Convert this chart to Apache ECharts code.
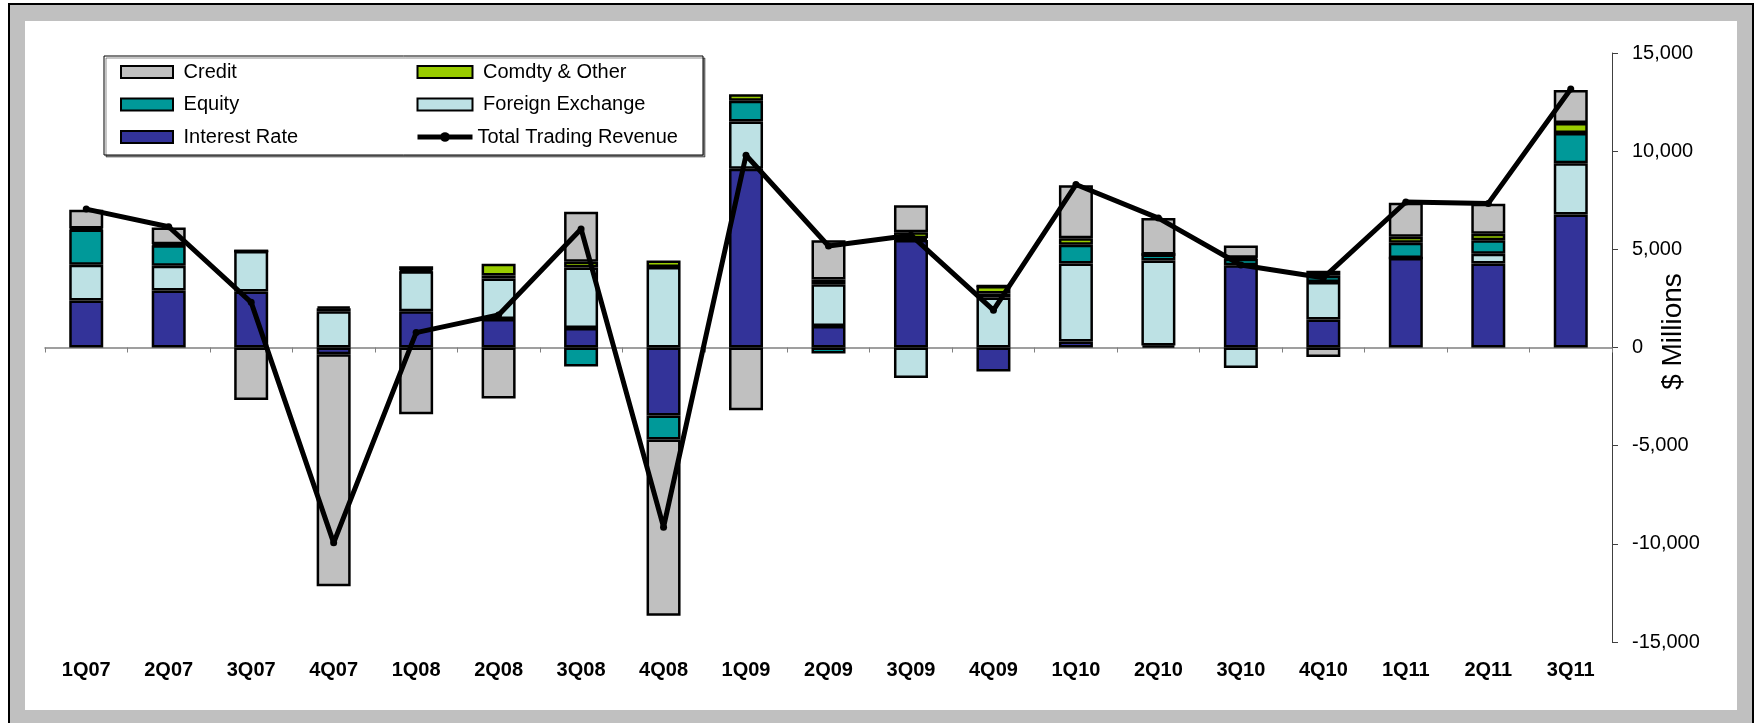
<!DOCTYPE html>
<html>
<head>
<meta charset="utf-8">
<title>Trading Revenue</title>
<script src="https://cdn.jsdelivr.net/npm/echarts@6/dist/echarts.min.js"></script>
<style>
	html, body { margin: 0; padding: 0; background: #fff; }
	#main { width: 1758px; height: 723px; }
</style>
</head>
<body>
<div id="main"></div>
<script>
//季度
const quarters = ['1Q07', '2Q07', '3Q07', '4Q07', '1Q08', '2Q08', '3Q08', '4Q08', '1Q09', '2Q09',
	'3Q09', '4Q09', '1Q10', '2Q10', '3Q10', '4Q10', '1Q11', '2Q11', '3Q11'];

//各业务收入 ($ Millions)
const interestRate = [2400, 2900, 2850, -340, 1840, 1450, 990, -3460, 9110, 1090, 5470, -1220, 300, 100, 4190, 1420, 4555, 4280, 6780];
const foreignExchange = [1820, 1260, 2070, 1850, 2040, 2070, 3080, 4100, 2400, 2130, -1550, 2550, 3980, 4330, -1040, 1910, 0, 490, 2600];
const equity = [1790, 1050, 0, 150, 60, 150, -970, -1220, 1060, -310, 100, 200, 950, 310, 330, 330, 780, 690, 1550];
const comdty = [50, 50, 0, 80, 200, 600, 300, 330, 330, 240, 300, 380, 330, 0, 50, 255, 310, 330, 510];
const credit = [950, 850, -2670, -11815, -3400, -2600, 2550, -8980, -3190, 2000, 1380, 0, 2700, 1860, 620, -490, 1730, 1530, 1680];
const totalRevenue = [7050, 6150, 2300, -9950, 760, 1660, 6040, -9150, 9790, 5170, 5720, 1900, 8300, 6590, 4200, 3550, 7410, 7340, 13170];

//y轴刻度
const yMin = -15000, yMax = 15000, yStep = 5000;

const FONT = '"Liberation Sans", Arial, sans-serif';
const LINE_NAME = 'Total Trading Revenue';

function barSeries(name, data, color) {
	return {
		name: name,
		type: 'bar',
		stack: 'rev',
		barWidth: 34,
		xAxisIndex: 0,
		data: data,
		itemStyle: { color: color, borderColor: '#000', borderWidth: 2.5 },
		z: 2
	};
}

//图例文字前留一点空隙(线条那项除外)
function legendText(name) {
	return name === LINE_NAME ? name : ' ' + name;
}

const option = {
	animation: false,
	textStyle: { fontFamily: FONT },
	graphic: [
		//外框
		{ type: 'rect', z: -10, silent: true, shape: { x: 9, y: 4, width: 1744, height: 740 },
			style: { fill: '#c0c0c0', stroke: '#000', lineWidth: 2 } },
		{ type: 'rect', z: -9, silent: true, shape: { x: 25, y: 21, width: 1712, height: 689 },
			style: { fill: '#fff' } },
		//图例边框
		{ type: 'rect', z: 1, silent: true, shape: { x: 104, y: 56, width: 599, height: 99 },
			style: { fill: '#fff', stroke: '#000', lineWidth: 1,
				shadowColor: 'rgba(0,0,0,0.45)', shadowOffsetX: 2, shadowOffsetY: 2, shadowBlur: 0 } }
	],
	legend: [
		{
			orient: 'vertical', left: 120, top: 62, padding: 0, itemWidth: 52, itemHeight: 12, itemGap: 12.5,
			formatter: legendText,
			textStyle: { fontSize: 20, lineHeight: 20, color: '#000', fontFamily: FONT },
			data: [{ name: 'Credit', icon: 'rect' }, { name: 'Equity', icon: 'rect' }, { name: 'Interest Rate', icon: 'rect' }]
		},
		{
			orient: 'vertical', left: 415, top: 62, padding: 0, itemWidth: 55, itemHeight: 12, itemGap: 12.5,
			formatter: legendText,
			lineStyle: { width: 5 },
			textStyle: { fontSize: 20, lineHeight: 20, color: '#000', fontFamily: FONT },
			data: [{ name: 'Comdty & Other', icon: 'rect' }, { name: 'Foreign Exchange', icon: 'rect' }, { name: LINE_NAME }]
		}
	],
	grid: { left: 45, right: 146, top: 53, bottom: 81, containLabel: false },
	xAxis: [
		{
			type: 'category', data: quarters, position: 'bottom',
			axisLine: { onZero: true, lineStyle: { color: '#808080', width: 1.5 } },
			axisTick: { show: true, length: 5, interval: 0, lineStyle: { color: '#808080' } },
			axisLabel: { show: false }
		},
		{
			type: 'category', data: quarters, position: 'bottom',
			axisLine: { show: false, onZero: false },
			axisTick: { show: false },
			axisLabel: { interval: 0, margin: 18, fontSize: 20, fontWeight: 'bold', color: '#000', fontFamily: FONT }
		}
	],
	yAxis: {
		type: 'value', position: 'right', min: yMin, max: yMax, interval: yStep,
		name: '$ Millions', nameLocation: 'middle', nameGap: 47, nameRotate: 90, nameMoveOverlap: false,
		nameTextStyle: { fontSize: 28, color: '#000', fontFamily: FONT, padding: [0, 0, 0, 32] },
		splitLine: { show: false },
		axisLine: { show: true, lineStyle: { color: '#404040', width: 1 } },
		axisTick: { show: true, length: 6, lineStyle: { color: '#404040' } },
		axisLabel: {
			margin: 20, fontSize: 20, color: '#000', fontFamily: FONT,
			formatter: v => v.toLocaleString('en-US')
		}
	},
	series: [
		barSeries('Interest Rate', interestRate, '#333399'),
		barSeries('Foreign Exchange', foreignExchange, '#bde1e4'),
		barSeries('Equity', equity, '#009999'),
		barSeries('Comdty & Other', comdty, '#99cc00'),
		barSeries('Credit', credit, '#c0c0c0'),
		{
			name: LINE_NAME,
			type: 'line',
			xAxisIndex: 0,
			data: totalRevenue,
			symbol: 'circle',
			symbolSize: 7,
			lineStyle: { color: '#000', width: 5 },
			itemStyle: { color: '#000' },
			z: 5
		}
	]
};

let myChart = echarts.init(document.getElementById('main'));
myChart.setOption(option);
window.addEventListener('resize', function () {
	myChart.resize();
});
</script>
</body>
</html>
